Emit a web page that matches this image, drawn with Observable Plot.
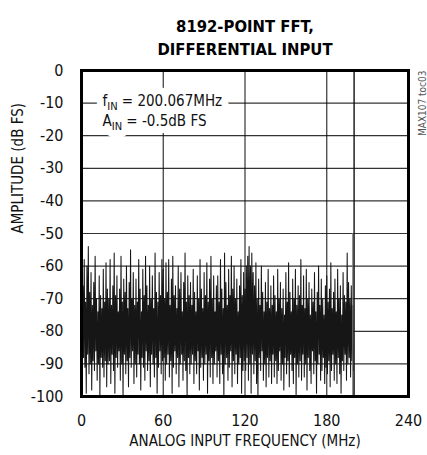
<!DOCTYPE html>
<html>
<head>
<meta charset="utf-8">
<script src="https://cdn.jsdelivr.net/npm/d3@7"></script>
<script src="https://cdn.jsdelivr.net/npm/@observablehq/plot@0.6"></script>
<style>
  html, body { margin: 0; padding: 0; background: #fff; }
  #chart svg { display: block; }
</style>
</head>
<body>
<div id="chart"></div>
<script>
// Noise floor: per 1 MHz bin, an upper spike value and a lower dip value (dB FS)
const noiseHigh = [
  -55,-66,-58,-71,-60,-54,-68,-62,-72,-65,-57,-70,-74,-63,-69,-73,-61,-71,-59,-67,
  -70,-58,-72,-66,-56,-69,-63,-74,-67,-57,-71,-64,-68,-60,-73,-65,-55,-70,-62,-72,
  -64,-71,-58,-67,-74,-61,-69,-57,-66,-72,-60,-70,-63,-73,-56,-68,-71,-62,-69,-58,
  -61,-70,-59,-68,-58,-72,-64,-57,-69,-66,-73,-60,-67,-62,-74,-65,-56,-71,-63,-69,
  -65,-72,-61,-68,-74,-63,-70,-58,-67,-73,-62,-69,-59,-71,-64,-57,-70,-63,-74,-66,
  -63,-71,-58,-67,-73,-56,-65,-72,-61,-69,-57,-67,-60,-70,-64,-74,-66,-58,-69,-62,
  -67,-60,-57,-54,-60,-56,-62,-66,-59,-70,-64,-72,-60,-68,-74,-65,-71,-61,-73,-66,
  -72,-63,-69,-74,-61,-70,-65,-73,-67,-75,-62,-71,-59,-68,-74,-64,-70,-61,-72,-66,
  -69,-58,-72,-63,-73,-61,-70,-65,-75,-67,-71,-62,-74,-68,-60,-72,-64,-70,-75,-66,
  -63,-71,-67,-59,-73,-68,-64,-74,-61,-70,-66,-75,-62,-69,-71,-56,-65,-70,-66,-72
];
const noiseLow = [
  -96,-88,-91,-99,-87,-93,-90,-98,-89,-92,-86,-95,-90,-100,-88,-91,-94,-89,-97,-90,
  -89,-96,-87,-92,-99,-88,-91,-86,-95,-90,-100,-87,-93,-89,-97,-88,-91,-86,-96,-90,
  -94,-87,-90,-98,-88,-91,-95,-86,-92,-89,-97,-87,-90,-94,-88,-99,-91,-86,-93,-89,
  -88,-95,-90,-87,-94,-89,-99,-91,-86,-93,-88,-97,-90,-87,-95,-89,-92,-100,-88,-93,
  -90,-87,-96,-89,-93,-86,-98,-91,-88,-95,-90,-87,-99,-89,-94,-88,-96,-90,-86,-94,
  -89,-96,-87,-93,-100,-90,-88,-95,-91,-86,-97,-89,-93,-87,-96,-90,-88,-99,-92,-89,
  -92,-88,-95,-90,-99,-87,-93,-89,-96,-100,-88,-92,-86,-95,-90,-97,-88,-94,-89,-96,
  -87,-94,-89,-96,-92,-86,-95,-90,-98,-88,-93,-89,-97,-87,-92,-96,-88,-100,-90,-94,
  -89,-95,-87,-94,-90,-98,-88,-92,-96,-86,-93,-89,-99,-90,-87,-95,-92,-88,-96,-91,
  -93,-89,-97,-92,-87,-95,-90,-96,-88,-93,-99,-89,-92,-87,-95,-90,-88,-94,-89,-92
];
// Spurs: the fundamental and a nearby component
const spurFreq = [199.2, 200.067];
const spurAmp = [-50, -0.5];
const spurColor = ["#777", "#111"];

const xTicks = [0, 60, 120, 180, 240];
const yTicks = [0, -10, -20, -30, -40, -50, -60, -70, -80, -90, -100];
const titleLines = ["8192-POINT FFT,", "DIFFERENTIAL INPUT"];
const noteLines = ["fIN = 200.067MHz", "AIN = -0.5dB FS"];
const xLabel = "ANALOG INPUT FREQUENCY (MHz)";
const yLabel = "AMPLITUDE (dB FS)";
const tocLabel = "MAX107 toc03";

// Build zig-zag trace: high at f, low at f + 0.5
const trace = [];
noiseHigh.forEach((h, i) => {
  trace.push({f: i, a: h});
  trace.push({f: i + 0.5, a: noiseLow[i]});
});
const spurs = spurFreq.map((f, i) => ({f, a: spurAmp[i], c: spurColor[i]}));

const FONT = "'Liberation Sans Narrow', 'DejaVu Sans Condensed', 'Arial Narrow', sans-serif";
const noteOpts = {frameAnchor: "top-left", dx: 21, textAnchor: "start", fontSize: 15, className: "note"};

const chart = Plot.plot({
  width: 427,
  height: 455,
  marginTop: 70,
  marginBottom: 59,
  marginLeft: 81,
  marginRight: 19,
  style: {fontFamily: FONT, fontSize: "16px", color: "#111", background: "#fff"},
  x: {domain: [0, 240], ticks: xTicks, label: null, tickSize: 0, tickPadding: 18},
  y: {domain: [-100, 0], ticks: yTicks, label: null, tickSize: 0, tickPadding: 18},
  marks: [
    Plot.gridY(yTicks, {stroke: "#111", strokeOpacity: 0.85, strokeWidth: 1.2}),
    Plot.gridX(xTicks, {stroke: "#111", strokeOpacity: 0.85, strokeWidth: 1.2}),
    Plot.line(trace, {x: "f", y: "a", stroke: "#161616", strokeWidth: 1.05}),
    Plot.ruleX(spurs, {x: "f", y1: -100, y2: "a", stroke: "c", strokeWidth: 1.4}),
    // white halo behind the annotation
    Plot.text([noteLines[0]], {...noteOpts, dy: 25, fill: "white", stroke: "white", strokeWidth: 14, strokeLinejoin: "round"}),
    Plot.text([noteLines[1]], {...noteOpts, dy: 45, fill: "white", stroke: "white", strokeWidth: 14, strokeLinejoin: "round"}),
    Plot.text([noteLines[0]], {...noteOpts, dy: 25, fill: "#111"}),
    Plot.text([noteLines[1]], {...noteOpts, dy: 45, fill: "#111"}),
    Plot.frame({stroke: "#000", strokeWidth: 3}),
    Plot.axisX(xTicks, {tickSize: 0, tickPadding: 18, fontSize: 16, tickFormat: d => String(d)}),
    Plot.axisY(yTicks, {tickSize: 0, tickPadding: 18, fontSize: 16, tickFormat: d => String(d)}),
    Plot.text([titleLines[0]], {frameAnchor: "top", dy: -50, fontSize: 16.5, fontWeight: "bold", fill: "#000"}),
    Plot.text([titleLines[1]], {frameAnchor: "top", dy: -27, fontSize: 16.5, fontWeight: "bold", fill: "#000"}),
    Plot.text([xLabel], {frameAnchor: "bottom", dy: 49, fontSize: 15, fill: "#111"}),
    Plot.text([yLabel], {frameAnchor: "left", dx: -63, rotate: -90, fontSize: 15, fill: "#111"}),
    Plot.text([tocLabel], {frameAnchor: "top-right", dx: 10, rotate: -90, textAnchor: "end", fontSize: 10, fill: "#555"})
  ]
});

// Subscripts for fIN and AIN
const ns = "http://www.w3.org/2000/svg";
chart.querySelectorAll("g.note text").forEach(t => {
  const s = t.textContent;
  const head = s.charAt(0);
  const rest = s.slice(3);
  t.textContent = "";
  const a = document.createElementNS(ns, "tspan"); a.textContent = head;
  const b = document.createElementNS(ns, "tspan"); b.textContent = "IN";
  b.setAttribute("font-size", "11"); b.setAttribute("dy", "4");
  const c = document.createElementNS(ns, "tspan"); c.textContent = rest;
  c.setAttribute("dy", "-4");
  t.append(a, b, c);
});

document.getElementById("chart").append(chart);
</script>
</body>
</html>
